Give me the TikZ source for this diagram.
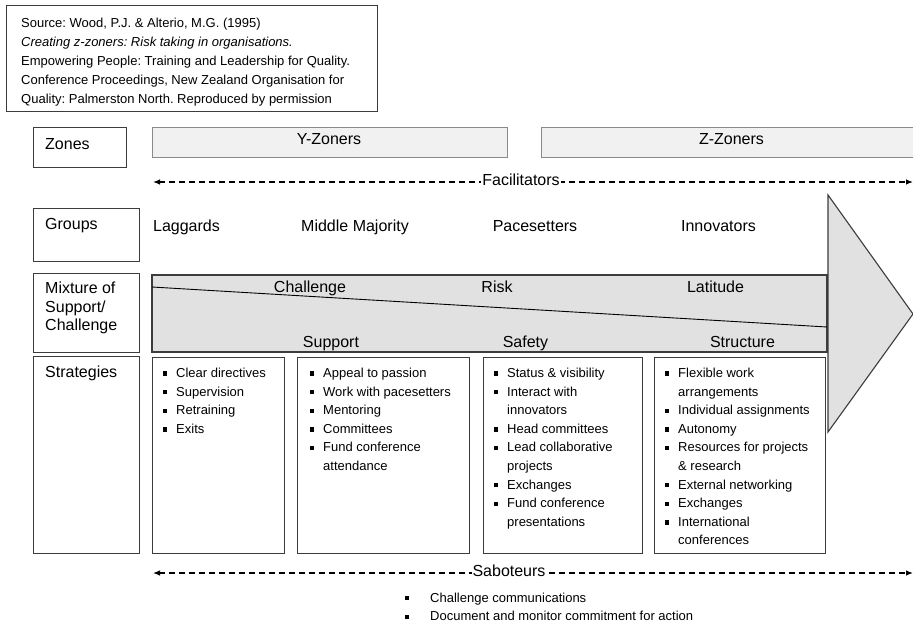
\documentclass[tikz,border=0pt]{standalone}
\usepackage{fontspec}
\setmainfont{Liberation Sans}
\usetikzlibrary{arrows.meta}
\frenchspacing
\definecolor{boxline}{HTML}{3C3C3C}
\definecolor{barfill}{HTML}{F1F1F1}
\definecolor{barline}{HTML}{8A8A8A}
\definecolor{bandfill}{HTML}{E1E1E1}
\newcommand\sqb{\makebox[13pt][l]{\rule[1.8pt]{4pt}{4.4pt}}}
\newcommand\cnt{\makebox[13pt]{}}
\newcommand\wsqb{\makebox[25pt][l]{\rule[1.8pt]{4pt}{4.4pt}}}
\newcommand\fst{\rule{0pt}{10pt}}
\begin{document}
\begin{tikzpicture}[x=1pt,y=-1pt,
  lbox/.style={draw=boxline,line width=1.1pt,fill=white,anchor=north west,inner sep=0pt},
  bar/.style={draw=barline,line width=1.2pt,fill=barfill,anchor=north west,inner sep=0pt},
  lbl/.style={font=\fontsize{16}{18.7}\selectfont,inner sep=0pt},
  small/.style={font=\fontsize{13}{18.6}\selectfont,inner sep=0pt,align=left,anchor=north west},
  dasharrow/.style={dash pattern=on 6pt off 4pt,line width=1.2pt,{Latex[length=7pt,width=5.5pt]}-{Latex[length=7pt,width=5.5pt]}},
  ]
\clip (0,0) rectangle (913,624);
\fill[white] (0,0) rectangle (913,624);

% source box
\node[lbox,minimum width=371pt,minimum height=106pt] (srcbox) at (6,5) {};
\node[small,font=\fontsize{13}{19.1}\selectfont] (src) at (21,17.3) {\fst Source: Wood, P.J. \& Alterio, M.G. (1995)\\
\textit{Creating z-zoners: Risk taking in organisations.}\\
Empowering People: Training and Leadership for Quality.\\
Conference Proceedings, New Zealand Organisation for\\
Quality: Palmerston North. Reproduced by permission};

% zones row
\node[lbox,minimum width=93pt,minimum height=40pt] (zonesbox) at (33,127) {};
\node[lbl,anchor=base west] (zones) at (45,149) {Zones};
\node[bar,minimum width=355pt,minimum height=30pt] (ybar) at (152,127) {};
\node[lbl,anchor=base] (ytxt) at (329,144) {Y-Zoners};
\node[bar,minimum width=390pt,minimum height=30pt] (zbar) at (541,127) {};
\node[lbl,anchor=base] (ztxt) at (731.5,144) {Z-Zoners};

% facilitators
\coordinate (fl) at (153,182);
\coordinate (fr) at (913,182);
\draw[dasharrow] (fl) -- (fr);
\node[lbl,anchor=base,fill=white,inner xsep=1pt,inner ysep=0.5pt] (fac) at (521,185) {Facilitators};

% groups row
\node[lbox,minimum width=106pt,minimum height=53pt] (groupsbox) at (33,208) {};
\node[lbl,anchor=base west] (groups) at (45,229) {Groups};
\node[lbl,anchor=base] (lag) at (186.5,231) {Laggards};
\node[lbl,anchor=base] (mid) at (355,231) {Middle Majority};
\node[lbl,anchor=base] (pace) at (535,231) {Pacesetters};
\node[lbl,anchor=base] (inno) at (718.5,231) {Innovators};

% big arrow
\filldraw[fill=bandfill,draw=boxline,line width=1.1pt,line join=miter]
  (828,195) -- (913,314) -- (828,432) -- cycle;
\filldraw[fill=bandfill,draw=boxline,line width=1.1pt] (152,275) rectangle (827,352);
\draw[black,line width=0.9pt] (152,287) -- (827,327);

% mixture row
\node[lbox,minimum width=106pt,minimum height=79pt] (mixbox) at (33,273) {};
\node[lbl,align=left,anchor=north west] (mix) at (45,280.8) {\rule{0pt}{12.5pt}Mixture of\\ Support/\\ Challenge};
\node[lbl,anchor=base] (chal) at (310,292.3) {Challenge};
\node[lbl,anchor=base] (risk) at (497,292.3) {Risk};
\node[lbl,anchor=base] (lat) at (715.5,292.3) {Latitude};
\node[lbl,anchor=base] (sup) at (331,347.3) {Support};
\node[lbl,anchor=base] (saf) at (525.5,347.3) {Safety};
\node[lbl,anchor=base] (str) at (742.5,347.3) {Structure};

% strategies row
\node[lbox,minimum width=106pt,minimum height=197pt] (stratbox) at (33,356) {};
\node[lbl,anchor=base west] (strat) at (45,377.7) {Strategies};
\node[lbox,minimum width=132pt,minimum height=196pt] (b1) at (152,357) {};
\node[lbox,minimum width=172pt,minimum height=196pt] (b2) at (297,357) {};
\node[lbox,minimum width=159pt,minimum height=196pt] (b3) at (483,357) {};
\node[lbox,minimum width=171pt,minimum height=196pt] (b4) at (654,357) {};

\node[small] (t1) at (163,367.3) {\fst\sqb Clear directives\\ \sqb Supervision\\ \sqb Retraining\\ \sqb Exits};
\node[small] (t2) at (310,367.3) {\fst\sqb Appeal to passion\\ \sqb Work with pacesetters\\ \sqb Mentoring\\ \sqb Committees\\ \sqb Fund conference\\ \cnt attendance};
\node[small] (t3) at (494,367.3) {\fst\sqb Status \& visibility\\ \sqb Interact with\\ \cnt innovators\\ \sqb Head committees\\ \sqb Lead collaborative\\ \cnt projects\\ \sqb Exchanges\\ \sqb Fund conference\\ \cnt presentations};
\node[small] (t4) at (665,367.3) {\fst\sqb Flexible work\\ \cnt arrangements\\ \sqb Individual assignments\\ \sqb Autonomy\\ \sqb Resources for projects\\ \cnt \& research\\ \sqb External networking\\ \sqb Exchanges\\ \sqb International\\ \cnt conferences};

% saboteurs
\coordinate (sl) at (153,573);
\coordinate (sr) at (913,573);
\draw[dasharrow] (sl) -- (sr);
\node[lbl,anchor=base,fill=white,inner xsep=1pt,inner ysep=0.5pt] (sab) at (509,576.5) {Saboteurs};

\node[small] (bot) at (405,592) {\fst\wsqb Challenge communications\\ \wsqb Document and monitor commitment for action};
\end{tikzpicture}
\end{document}
